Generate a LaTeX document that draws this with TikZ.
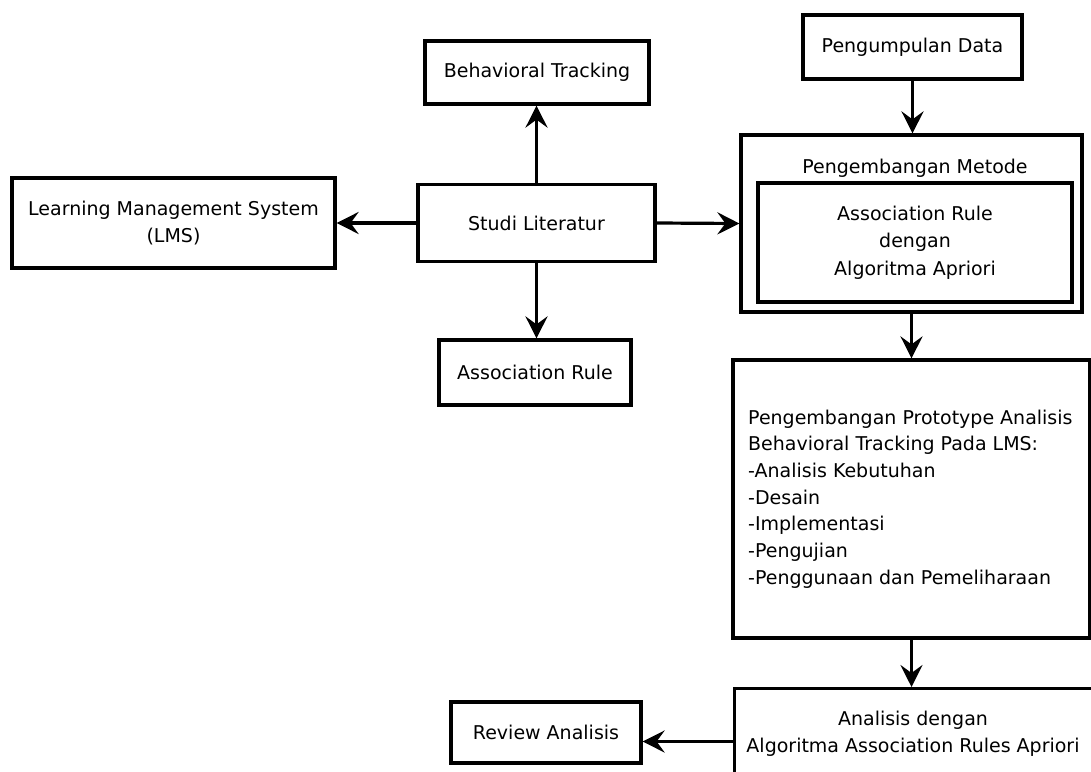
\documentclass[tikz,border=0pt]{standalone}
\usepackage{fontspec}
\setmainfont{DejaVu Sans}
\usetikzlibrary{arrows.meta}
\begin{document}
\begin{tikzpicture}[x=1pt,y=-1pt,
  box/.style={draw,line width=3.2pt,inner sep=0pt,align=center,font=\fontsize{19}{27.5}\selectfont},
  txt/.style={inner sep=0pt,font=\fontsize{19}{27.5}\selectfont},
  arr/.style={line width=3.2pt,-{Stealth[length=22pt,width=22pt,inset=8pt]}}]
\useasboundingbox (0,0) rectangle (1091,771);
\clip (0,0) rectangle (1091,771);
\fill[white] (0,0) rectangle (1091,771);
\node[box,minimum width=323pt,minimum height=90pt] (lms) at (173.5,223) {Learning Management System\\(LMS)};
\node[box,minimum width=224pt,minimum height=63pt] (bt) at (537,72.5) {Behavioral Tracking};
\node[box,minimum width=237pt,minimum height=77pt] (studi) at (536.5,223) {Studi Literatur};
\node[box,minimum width=192pt,minimum height=65pt] (ar) at (535,372.5) {Association Rule};
\node[box,minimum width=219pt,minimum height=64pt] (pd) at (912.5,47) {Pengumpulan Data};
\node[box,minimum width=341pt,minimum height=177pt] (outer) at (911.5,223.5) {};
\node[txt] (pm) at (915,168) {Pengembangan Metode};
\node[box,minimum width=314pt,minimum height=119pt] (inner) at (915,242.5) {Association Rule\\dengan\\Algoritma Apriori};
\node[box,minimum width=357pt,minimum height=278pt] (proto) at (911.5,499) {};
\node[txt,anchor=west,align=left,font=\fontsize{19}{26.7}\selectfont] (prototxt) at (748,499) {Pengembangan Prototype Analisis\\Behavioral Tracking Pada LMS:\\-Analisis Kebutuhan\\-Desain\\-Implementasi\\-Pengujian\\-Penggunaan dan Pemeliharaan};
\node[box,minimum width=360pt,minimum height=103pt,anchor=north west] (final) at (733,687) {};
\node[txt,align=center] (finaltxt) at (913,733.5) {Analisis dengan\\Algoritma Association Rules Apriori};
\node[box,minimum width=190pt,minimum height=61pt] (ra) at (546,732.5) {Review Analisis};
\draw[arr] (studi.west) -- (lms.east);
\draw[arr] (studi.north) -- (studi.north |- bt.south);
\draw[arr] (studi.south) -- (studi.south |- ar.north);
\draw[arr] (studi.east) -- (outer.west);
\draw[arr] (pd.south) -- (pd.south |- outer.north);
\draw[arr] (outer.south) -- (proto.north);
\draw[arr] (proto.south) -- (proto.south |- final.north);
\draw[arr] (final.west |- ra.east) ++(0,9) coordinate (fs) -- (fs -| ra.east);
\end{tikzpicture}
\end{document}
